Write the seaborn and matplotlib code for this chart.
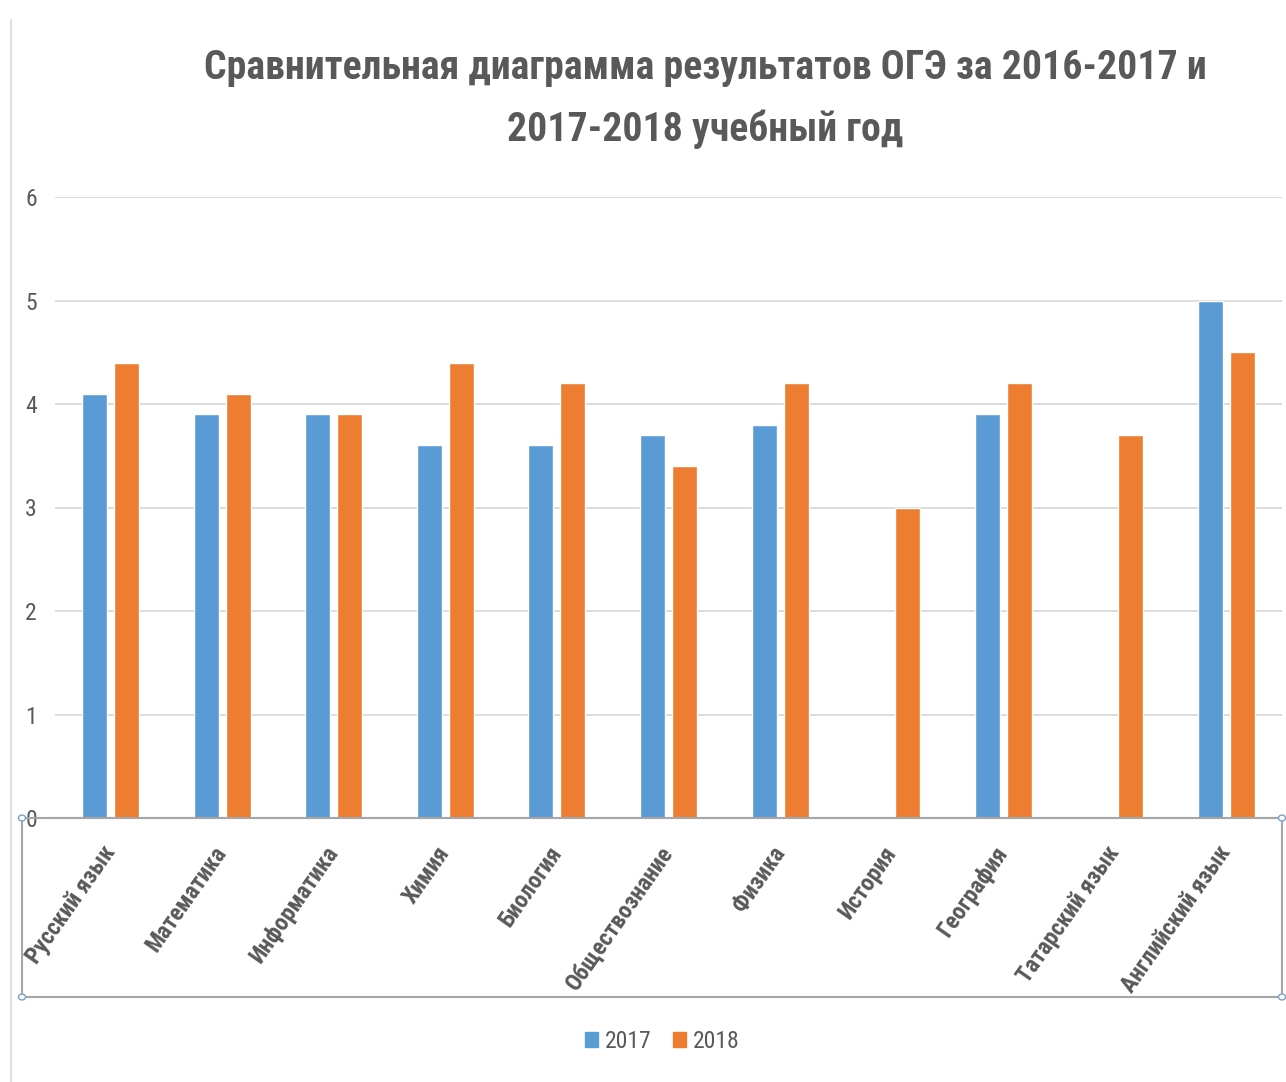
import numpy as np
import pandas as pd
import matplotlib
matplotlib.use("Agg")
import matplotlib.pyplot as plt
import seaborn as sns
from matplotlib import font_manager as fm
from matplotlib.patches import Rectangle, Circle
from matplotlib.lines import Line2D

subjects = ["Русский язык", "Математика", "Информатика", "Химия", "Биология",
            "Обществознание", "Физика", "История", "География",
            "Татарский язык", "Английский язык"]
vals_2017 = [4.1, 3.9, 3.9, 3.6, 3.6, 3.7, 3.8, np.nan, 3.9, np.nan, 5.0]
vals_2018 = [4.4, 4.1, 3.9, 4.4, 4.2, 3.4, 4.2, 3.0, 4.2, 3.7, 4.5]
years = ["2017", "2018"]
colors = ["#5B9BD5", "#ED7D31"]
yticks = [0, 1, 2, 3, 4, 5, 6]
title = "Сравнительная диаграмма результатов ОГЭ за 2016-2017 и\n2017-2018 учебный год"

df = pd.DataFrame({
    "Предмет": subjects * 2,
    "Год": [years[0]] * len(subjects) + [years[1]] * len(subjects),
    "Балл": vals_2017 + vals_2018,
})

sns.set_theme(style="white")

# choose a narrow font if one is installed
names = {f.name for f in fm.fontManager.ttflist}
stretch = "normal"
family = ["DejaVu Sans"]
narrow_found = False
for cand in ["Roboto Condensed", "Liberation Sans Narrow", "Open Sans Condensed",
             "DejaVu Sans Condensed", "Noto Sans Condensed"]:
    if cand in names:
        family = [cand, "DejaVu Sans"]
        narrow_found = True
        break
if not narrow_found:
    if any(f.name == "DejaVu Sans" and "condensed" in str(f.stretch) for f in fm.fontManager.ttflist):
        family = ["DejaVu Sans"]
        stretch = "condensed"
        narrow_found = True
plt.rcParams["font.family"] = family
plt.rcParams["font.stretch"] = stretch

W, H = 1286, 1082
fig = plt.figure(figsize=(W / 100, H / 100), dpi=100)
ax = fig.add_axes([55 / W, 1 - 818 / H, (1282 - 55) / W, (818 - 197) / H])

sns.barplot(data=df, x="Предмет", y="Балл", hue="Год", order=subjects,
            hue_order=years, palette=colors, width=0.574, gap=0.22,
            saturation=1, ax=ax, legend=False)

ax.set_xlim(-0.5, len(subjects) - 0.5)
ax.set_ylim(0, 6)
ax.set_yticks(yticks)
ax.set_yticklabels([str(t) for t in yticks], fontsize=17, color="#595959")
ax.yaxis.grid(True, color="#D9D9D9", linewidth=1.3)
ax.set_axisbelow(True)
for s in ["left", "right", "top"]:
    ax.spines[s].set_visible(False)
ax.spines["bottom"].set_color("#A6A6A6")
ax.spines["bottom"].set_linewidth(1.5)
ax.tick_params(axis="y", length=0, pad=13)
ax.tick_params(axis="x", length=0, pad=22)
ax.set_xlabel("")
ax.set_ylabel("")
ax.set_xticks(range(len(subjects)))
xfs = 17 if narrow_found else 14
ax.set_xticklabels(subjects, rotation=55, ha="right", va="center",
                   rotation_mode="anchor",
                   fontsize=xfs, fontweight="bold", color="#595959")

ttl = fig.text(705 / W, 1 - 99 / H, title, ha="center", va="center",
               fontsize=33, fontweight="bold", color="#595959", linespacing=1.7)
# fit title's first line width (~1004 px) like the reference
renderer = fig.canvas.get_renderer()
w = ttl.get_window_extent(renderer).width
if w > 0:
    ttl.set_fontsize(min(33, 33 * 1004 / w))

# label-area box
box = Rectangle((22 / W, 1 - 997 / H), (1282 - 22) / W, (997 - 818) / H,
                transform=fig.transFigure, fill=False, edgecolor="#A6A6A6",
                linewidth=1.5, zorder=5)
fig.add_artist(box)
for (px, py) in [(22, 818), (1282, 818), (22, 997), (1282, 997)]:
    fig.add_artist(Circle((px / W, 1 - py / H), 3.5 / W, transform=fig.transFigure,
                          facecolor="white", edgecolor="#7BA0C8", linewidth=1, zorder=6))
fig.add_artist(Line2D([11 / W, 11 / W], [1 - 20 / H, 0], transform=fig.transFigure,
                      color="#E0E0E0", linewidth=1.5))

handles = [Rectangle((0, 0), 1, 1, color=c) for c in colors]
fig.legend(handles, years, loc="center", bbox_to_anchor=(662 / W, 1 - 1041 / H),
           ncol=2, frameon=False, fontsize=17, handlelength=0.55, handleheight=0.6,
           handletextpad=0.3, columnspacing=0.9, labelcolor="#595959")

fig.savefig("out.png", dpi=100, facecolor="white")
